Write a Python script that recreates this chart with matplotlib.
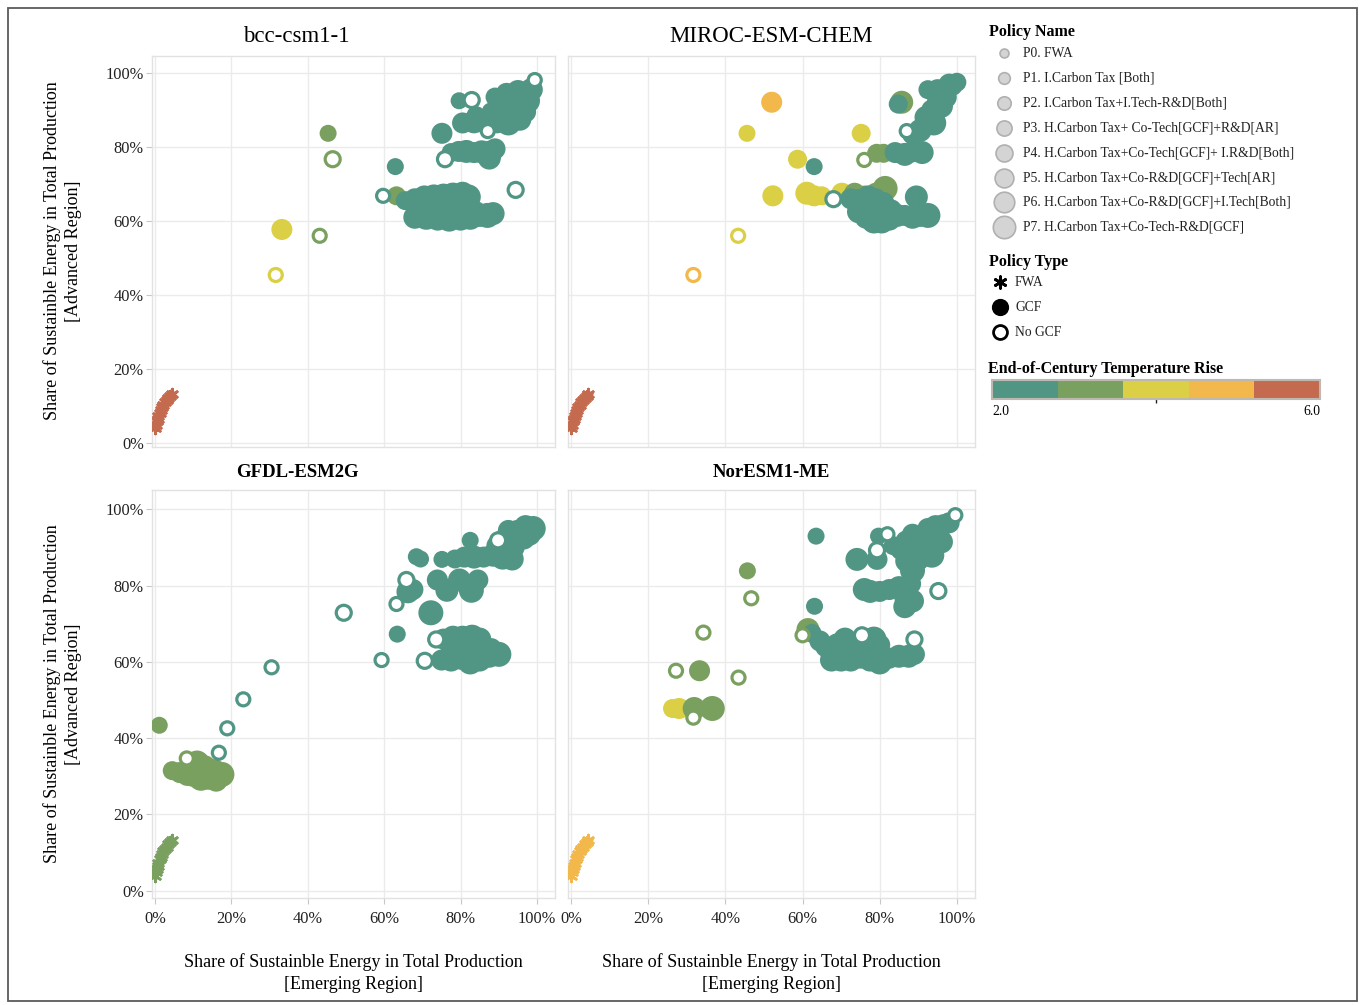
import numpy as np
import matplotlib
matplotlib.use('Agg')
import matplotlib.pyplot as plt
from matplotlib.colors import ListedColormap, BoundaryNorm
from matplotlib.cm import ScalarMappable
from matplotlib.ticker import FuncFormatter
from matplotlib.patches import Rectangle

plt.rcParams['font.family'] = ['Liberation Serif', 'DejaVu Serif']

models = ['bcc-csm1-1', 'MIROC-ESM-CHEM', 'GFDL-ESM2G', 'NorESM1-ME']

temp_colors = ['#519684', '#7aa05f', '#dacf45', '#f2b84b', '#c46a4f']
temp_bounds = [2.0, 2.8, 3.6, 4.4, 5.2, 6.0]

policy_names = ['P0. FWA',
                'P1. I.Carbon Tax [Both]',
                'P2. I.Carbon Tax+I.Tech-R&D[Both]',
                'P3. H.Carbon Tax+ Co-Tech[GCF]+R&D[AR]',
                'P4. H.Carbon Tax+Co-Tech[GCF]+ I.R&D[Both]',
                'P5. H.Carbon Tax+Co-R&D[GCF]+Tech[AR]',
                'P6. H.Carbon Tax+Co-R&D[GCF]+I.Tech[Both]',
                'P7. H.Carbon Tax+Co-Tech-R&D[GCF]']
policy_sizes = [52, 88, 117, 150, 187, 229, 274, 324]
policy_types = ['FWA', 'GCF', 'No GCF']

# business-as-usual trail, same shares for every model
fwa_x = [0.1, 0.3, 0.5, 0.7, 0.9, 1.2, 1.5, 1.8, 2.2, 2.6, 3.0, 3.5, 4.0, 4.5]
fwa_y = [4.0, 4.9, 5.8, 6.6, 7.4, 8.2, 8.9, 9.6, 10.3, 11.0, 11.6, 12.2, 12.8, 13.3]
fwa_temp = [5.6, 5.6, 3.2, 4.8]

# (emerging share %, advanced share %, temperature rise, policy)
bcc_gcf = [
    (45.3, 83.7, 3.2, 3), (75.1, 83.7, 2.4, 5), (62.9, 74.7, 2.4, 3), (63.2, 66.8, 3.2, 4),
    (33.2, 57.7, 4.0, 5), (79.6, 92.5, 2.4, 3),
    (80.5, 86.5, 2.4, 5), (83.5, 86.8, 2.4, 6), (86.5, 87.0, 2.4, 7), (89.5, 86.8, 2.4, 6),
    (92.5, 86.5, 2.4, 7), (95.5, 87.5, 2.4, 6), (97.0, 89.5, 2.3, 5), (88.0, 89.5, 2.3, 4),
    (91.0, 90.5, 2.3, 5), (94.0, 91.5, 2.3, 6), (97.5, 92.5, 2.3, 7), (89.0, 93.5, 2.3, 4),
    (92.0, 94.5, 2.3, 5), (95.0, 95.0, 2.3, 6), (98.5, 95.5, 2.3, 6), (84.0, 88.5, 2.4, 4),
    (77.5, 78.5, 2.4, 4), (79.5, 78.8, 2.4, 5), (81.5, 78.8, 2.4, 6), (83.5, 78.5, 2.4, 5),
    (85.5, 78.7, 2.4, 6), (87.5, 78.3, 2.4, 7), (89.0, 79.5, 2.4, 5), (87.5, 77.0, 2.4, 6),
    (65.5, 65.5, 2.5, 4), (68.0, 66.0, 2.5, 5), (70.5, 66.5, 2.5, 6), (73.0, 66.5, 2.5, 7),
    (75.5, 67.0, 2.5, 6), (78.0, 67.0, 2.5, 7), (80.5, 67.5, 2.5, 6), (82.0, 66.5, 2.5, 7),
    (72.0, 64.0, 2.5, 6), (76.0, 64.5, 2.5, 7),
    (68.0, 61.0, 2.5, 6), (71.0, 61.0, 2.5, 7), (74.0, 60.5, 2.5, 6), (77.0, 60.5, 2.5, 7),
    (80.0, 60.5, 2.5, 6), (82.5, 61.0, 2.5, 7), (85.0, 61.5, 2.5, 6), (87.0, 61.5, 2.5, 7),
    (88.5, 62.0, 2.5, 6), (79.0, 62.5, 2.5, 5), (84.0, 62.5, 2.5, 5),
]
bcc_nogcf = [
    (46.5, 76.7, 3.2, 2), (75.9, 76.7, 2.4, 2), (59.7, 66.8, 2.4, 1), (94.4, 68.4, 2.4, 2),
    (43.1, 56.0, 3.2, 1), (31.6, 45.4, 4.0, 1), (82.9, 92.7, 2.4, 2), (87.1, 84.3, 2.4, 1),
    (99.4, 98.1, 2.4, 1),
]

miroc_gcf = [
    (52.0, 92.1, 4.8, 5), (45.6, 83.7, 4.0, 3), (75.2, 83.7, 4.0, 4), (58.7, 76.7, 4.0, 4),
    (63.0, 74.7, 2.4, 3), (52.3, 66.8, 4.0, 5),
    (61.1, 67.5, 4.0, 6), (63.0, 66.8, 4.0, 5), (65.0, 66.8, 4.0, 4), (70.2, 67.5, 4.0, 5),
    (72.0, 67.0, 4.0, 4), (73.5, 67.5, 3.2, 5), (76.0, 67.0, 3.2, 4), (81.4, 68.8, 3.2, 7),
    (79.0, 67.5, 3.2, 5), (79.2, 78.3, 3.2, 4), (81.0, 78.3, 3.2, 4),
    (84.0, 78.5, 2.4, 5), (86.5, 78.0, 2.4, 6), (88.5, 78.7, 2.4, 5), (91.0, 78.5, 2.4, 6),
    (85.7, 92.1, 3.2, 6), (84.8, 91.6, 2.4, 4),
    (88.5, 83.5, 2.4, 5), (90.5, 84.5, 2.4, 6), (94.0, 86.5, 2.4, 7), (92.0, 88.0, 2.4, 6),
    (93.5, 90.0, 2.4, 5), (96.0, 91.0, 2.4, 6), (95.0, 92.5, 2.4, 5), (97.0, 93.5, 2.4, 6),
    (92.5, 95.5, 2.3, 4), (95.0, 95.5, 2.3, 5), (97.5, 95.5, 2.3, 5), (99.0, 96.5, 2.3, 4),
    (100.0, 97.5, 2.3, 4), (98.0, 97.0, 2.3, 5),
    (72.5, 66.0, 2.5, 5), (74.5, 65.5, 2.5, 6), (77.0, 66.5, 2.5, 6), (79.0, 66.0, 2.5, 5),
    (81.0, 65.0, 2.5, 5), (89.5, 66.5, 2.5, 6), (74.5, 62.5, 2.5, 6), (76.5, 61.0, 2.5, 6),
    (78.5, 60.0, 2.5, 7), (80.5, 60.0, 2.5, 7), (82.5, 60.5, 2.5, 6), (84.5, 61.5, 2.5, 6),
    (86.5, 61.5, 2.5, 5), (88.5, 61.0, 2.5, 6), (90.5, 61.5, 2.5, 6), (92.5, 61.5, 2.5, 7),
    (79.0, 63.5, 2.5, 5), (83.0, 63.0, 2.5, 5),
]
miroc_nogcf = [
    (31.7, 45.4, 4.8, 1), (43.3, 56.0, 4.0, 1), (68.0, 65.9, 2.4, 2), (76.0, 76.5, 3.2, 1),
    (87.0, 84.3, 2.4, 1),
]

gfdl_gcf = [
    (1.1, 43.4, 3.2, 3),
    (4.5, 31.5, 3.2, 4), (6.5, 31.0, 3.2, 5), (8.5, 30.5, 3.2, 6), (10.0, 30.0, 3.2, 5),
    (12.0, 29.5, 3.2, 7), (14.0, 29.5, 3.2, 6), (16.0, 29.0, 3.2, 6), (17.5, 30.5, 3.2, 7),
    (11.0, 33.5, 3.2, 7), (13.0, 32.5, 3.2, 6), (9.0, 32.5, 3.2, 5), (15.5, 31.5, 3.2, 6),
    (12.5, 31.0, 3.2, 7),
    (63.4, 67.3, 2.4, 3), (66.2, 78.4, 2.4, 6), (67.5, 79.0, 2.4, 5), (68.4, 87.6, 2.4, 3),
    (69.5, 87.0, 2.4, 3), (72.2, 72.9, 2.4, 7), (75.1, 86.9, 2.4, 3), (73.9, 81.5, 2.4, 5),
    (76.4, 78.8, 2.4, 6), (79.7, 81.5, 2.4, 6), (82.8, 78.8, 2.4, 7), (84.5, 81.5, 2.4, 5),
    (82.5, 91.9, 2.4, 3),
    (78.5, 87.0, 2.4, 4), (81.0, 87.5, 2.4, 5), (83.5, 87.5, 2.4, 6), (86.0, 87.5, 2.4, 5),
    (88.5, 88.0, 2.4, 6), (91.0, 87.5, 2.4, 7), (93.5, 87.0, 2.4, 6),
    (89.5, 90.5, 2.3, 5), (91.5, 92.0, 2.3, 6), (93.5, 92.5, 2.3, 6), (95.0, 94.0, 2.3, 7),
    (97.0, 95.5, 2.3, 6), (99.0, 95.0, 2.3, 7), (96.5, 92.5, 2.3, 6), (94.0, 90.0, 2.3, 5),
    (92.5, 94.5, 2.3, 5), (98.0, 93.5, 2.3, 6),
    (75.5, 66.0, 2.5, 5), (78.0, 66.5, 2.5, 6), (80.5, 66.5, 2.5, 6), (83.0, 66.5, 2.5, 7),
    (85.0, 66.0, 2.5, 6), (77.0, 65.0, 2.5, 5), (82.0, 65.0, 2.5, 5),
    (75.0, 60.5, 2.5, 5), (77.5, 60.5, 2.5, 6), (80.0, 61.0, 2.5, 6), (82.5, 60.0, 2.5, 7),
    (85.0, 60.5, 2.5, 6), (87.5, 61.5, 2.5, 6), (90.0, 62.0, 2.5, 7), (79.0, 63.0, 2.5, 5),
    (84.0, 63.0, 2.5, 6), (88.0, 63.5, 2.5, 5),
]
gfdl_nogcf = [
    (8.3, 34.7, 3.2, 1), (16.7, 36.2, 2.4, 1), (18.9, 42.6, 2.4, 1), (23.1, 50.2, 2.4, 1),
    (30.5, 58.6, 2.4, 1), (49.4, 72.9, 2.4, 2), (59.3, 60.5, 2.4, 1), (63.2, 75.2, 2.4, 1),
    (65.8, 81.5, 2.4, 2), (70.6, 60.3, 2.4, 2), (73.6, 65.9, 2.4, 2), (89.8, 91.9, 2.4, 2),
]

noresm_gcf = [
    (63.5, 93.0, 2.4, 3), (45.7, 83.9, 3.2, 3), (63.1, 74.6, 2.4, 3), (61.4, 68.5, 3.2, 6),
    (33.3, 57.7, 3.2, 5), (26.3, 47.8, 4.0, 4), (28.0, 47.8, 4.0, 5), (31.9, 47.8, 3.2, 6),
    (36.6, 47.8, 3.2, 7),
    (62.5, 67.5, 2.5, 4), (64.5, 65.5, 2.5, 5), (66.0, 64.0, 2.5, 5), (69.0, 64.5, 2.5, 6),
    (71.0, 66.0, 2.5, 6), (73.5, 64.0, 2.5, 5), (76.0, 65.0, 2.5, 6), (78.5, 66.0, 2.5, 7),
    (80.0, 64.5, 2.5, 5), (67.5, 60.5, 2.5, 6), (70.0, 60.5, 2.5, 6), (72.5, 60.5, 2.5, 6),
    (75.0, 61.0, 2.5, 5), (77.5, 60.5, 2.5, 6), (80.0, 60.0, 2.5, 7), (82.5, 61.0, 2.5, 5),
    (85.0, 61.5, 2.5, 6), (87.5, 61.5, 2.5, 6), (89.0, 62.0, 2.5, 5),
    (76.0, 79.0, 2.4, 6), (77.5, 78.5, 2.4, 6), (80.0, 78.5, 2.4, 5), (82.5, 79.0, 2.4, 5),
    (85.0, 79.5, 2.4, 6), (87.0, 77.0, 2.4, 7), (88.5, 76.0, 2.4, 6), (86.5, 74.5, 2.4, 6),
    (74.1, 86.9, 2.4, 6), (79.3, 86.9, 2.4, 5), (79.7, 93.0, 2.4, 3),
    (83.5, 90.5, 2.3, 4), (85.5, 89.5, 2.3, 5), (87.0, 91.5, 2.3, 6), (88.5, 93.5, 2.3, 5),
    (90.5, 92.5, 2.3, 6), (91.0, 89.5, 2.3, 6), (93.5, 88.0, 2.3, 7), (96.0, 91.5, 2.3, 6),
    (92.5, 95.0, 2.3, 5), (94.5, 95.5, 2.3, 6), (96.5, 96.0, 2.3, 5), (98.0, 96.5, 2.3, 5),
    (88.5, 84.0, 2.3, 7), (87.0, 86.5, 2.3, 6), (90.0, 87.0, 2.3, 6), (88.0, 80.5, 2.3, 5),
]
noresm_nogcf = [
    (99.6, 98.5, 2.4, 1), (34.3, 67.7, 3.2, 1), (46.7, 76.7, 3.2, 1), (27.2, 57.7, 3.2, 1),
    (43.4, 55.9, 3.2, 1), (31.7, 45.4, 3.2, 1), (75.4, 67.0, 2.4, 2), (89.0, 65.9, 2.4, 2),
    (95.2, 78.6, 2.4, 2), (79.3, 89.3, 2.4, 2), (60.0, 67.0, 3.2, 1), (82.0, 93.5, 2.4, 1),
]

panel_gcf = [bcc_gcf, miroc_gcf, gfdl_gcf, noresm_gcf]
panel_nogcf = [bcc_nogcf, miroc_nogcf, gfdl_nogcf, noresm_nogcf]

W, H = 1360, 1005
cmap = ListedColormap(temp_colors)
norm = BoundaryNorm(temp_bounds, cmap.N)
sizes = np.array(policy_sizes)

fig = plt.figure(figsize=(W / 100, H / 100), dpi=100)

# pane boxes in pixels: left, top, right, bottom
boxes = [(152, 56, 555, 447), (568, 56, 975, 447),
         (152, 490, 555, 898), (568, 490, 975, 898)]
ylims = [(-1.1, 104.6), (-1.1, 104.6), (-1.9, 105.1), (-1.9, 105.1)]
pct = FuncFormatter(lambda v, p: '%d%%' % v)

for i, (l, t, r, b) in enumerate(boxes):
    ax = fig.add_axes([l / W, 1 - b / H, (r - l) / W, (b - t) / H])
    ax.set_xlim(-0.8, 104.7)
    ax.set_ylim(*ylims[i])
    ax.set_xticks(range(0, 101, 20))
    ax.set_yticks(range(0, 101, 20))
    ax.xaxis.set_major_formatter(pct)
    ax.yaxis.set_major_formatter(pct)
    ax.grid(color='#ebebeb', linewidth=1)
    ax.set_axisbelow(True)
    for s in ax.spines.values():
        s.set_color('#e2e2e2')
        s.set_linewidth(1)
    ax.tick_params(length=4, color='#c8c8c8', labelsize=11.8, labelcolor='#222222', pad=2)
    ax.tick_params(axis='x', pad=5)
    if i < 2:
        ax.tick_params(labelbottom=False, bottom=False)
    if i % 2 == 1:
        ax.tick_params(labelleft=False, left=False)

    g = np.array(panel_gcf[i])
    ax.scatter(g[:, 0], g[:, 1], c=g[:, 2], cmap=cmap, norm=norm,
               s=sizes[g[:, 3].astype(int)], linewidths=0, zorder=3)
    n = np.array(panel_nogcf[i])
    ax.scatter(n[:, 0], n[:, 1], facecolors='white', edgecolors=cmap(norm(n[:, 2])),
               s=sizes[n[:, 3].astype(int)], linewidths=2.3, zorder=4)
    ax.scatter(fwa_x, fwa_y, color=cmap(norm(fwa_temp[i])), marker=(6, 2, 0),
               s=60, linewidths=2.0, zorder=5)

# overlay in pixel units for titles, axis text and legends
lax = fig.add_axes([0, 0, 1, 1], zorder=10)
lax.set_xlim(0, W)
lax.set_ylim(H, 0)
lax.axis('off')
lax.add_patch(Rectangle((8, 8), 1349, 993, fill=False, edgecolor='#5a5a5a', linewidth=1.3))

lax.text(296, 36, models[0], ha='center', va='center', fontsize=16.5)
lax.text(771, 36, models[1], ha='center', va='center', fontsize=16.5)
lax.text(297, 472, models[2], ha='center', va='center', fontsize=13.5, fontweight='bold')
lax.text(771, 472, models[3], ha='center', va='center', fontsize=13.5, fontweight='bold')

ylab = 'Share of Sustainble Energy in Total Production\n[Advanced Region]'
xlab = 'Share of Sustainble Energy in Total Production\n[Emerging Region]'
for yc in (251, 694):
    lax.text(62.5, yc, ylab, rotation=90, ha='center', va='center', fontsize=13,
             multialignment='center', linespacing=1.35)
for xc in (353, 771):
    lax.text(xc, 973, xlab, ha='center', va='center', fontsize=13,
             multialignment='center', linespacing=1.35)

# Policy Name legend
lax.text(989, 32, 'Policy Name', ha='left', va='center', fontsize=11.5, fontweight='bold')
for k, name in enumerate(policy_names):
    yk = 53 + k * 24.9
    lax.scatter([1004], [yk], s=sizes[k] * 0.8, color='#d4d4d4', edgecolors='#b0b0b0',
                linewidths=1.2)
    lax.text(1023, yk, name, ha='left', va='center', fontsize=9.8, color='#222222')

# Policy Type legend
lax.text(989, 262, 'Policy Type', ha='left', va='center', fontsize=11.5, fontweight='bold')
lax.scatter([1000], [282], marker=(6, 2, 0), s=70, color='black', linewidths=2)
lax.scatter([1000], [307], s=130, color='black')
lax.scatter([1000], [332], s=100, facecolors='white', edgecolors='black', linewidths=2)
for k, name in enumerate(policy_types):
    lax.text(1015, 282 + k * 25, name, ha='left', va='center', fontsize=9.8, color='#222222')

# temperature colour scale
lax.text(988, 369, 'End-of-Century Temperature Rise', ha='left', va='center',
         fontsize=11.5, fontweight='bold')
cax = fig.add_axes([992 / W, 1 - 399 / H, 328 / W, 19 / H])
cb = fig.colorbar(ScalarMappable(norm=norm, cmap=cmap), cax=cax, orientation='horizontal')
cb.set_ticks([4.0])
cb.set_ticklabels([''])
cax.minorticks_off()
cax.tick_params(length=3, width=1, color='#222222', direction='out')
cb.outline.set_edgecolor('#bdb8b0')
cb.outline.set_linewidth(1.5)
lax.text(992, 411, '2.0', ha='left', va='center', fontsize=9.8)
lax.text(1320, 411, '6.0', ha='right', va='center', fontsize=9.8)

fig.savefig('out.png', dpi=100)
